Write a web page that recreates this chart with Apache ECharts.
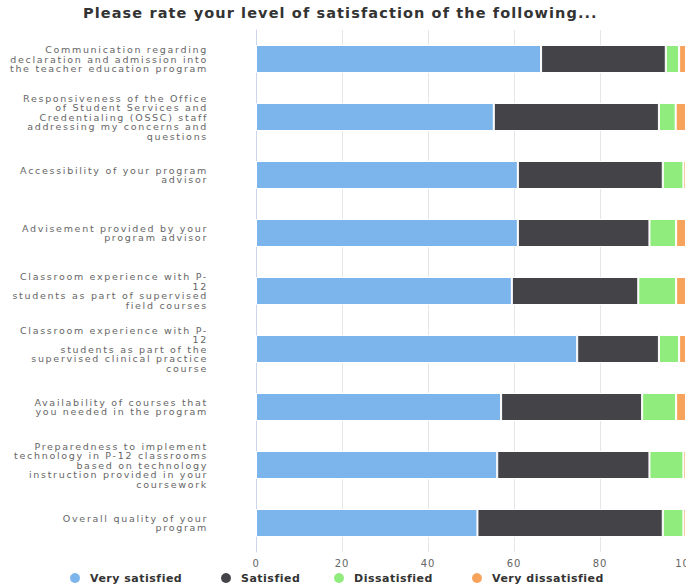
<!DOCTYPE html>
<html>
<head>
<meta charset="utf-8">
<title>Satisfaction</title>
<script src="https://cdn.jsdelivr.net/npm/echarts@6/dist/echarts.min.js"></script>
<style>
html, body { margin: 0; padding: 0; background: #fff; }
#main { width: 686px; height: 587px; }
</style>
</head>
<body>
<div id="main"></div>
<script>
var categories = [
	'Communication regarding\ndeclaration and admission into\nthe teacher education program',
	'Responsiveness of the Office\nof Student Services and\nCredentialing (OSSC) staff\naddressing my concerns and\nquestions',
	'Accessibility of your program\nadvisor',
	'Advisement provided by your\nprogram advisor',
	'Classroom experience with P-\n12\nstudents as part of supervised\nfield courses',
	'Classroom experience with P-\n12\nstudents as part of the\nsupervised clinical practice\ncourse',
	'Availability of courses that\nyou needed in the program',
	'Preparedness to implement\ntechnology in P-12 classrooms\nbased on technology\ninstruction provided in your\ncoursework',
	'Overall quality of your\nprogram'
];

var seriesNames = ['Very satisfied', 'Satisfied', 'Dissatisfied', 'Very dissatisfied'];

var verySatisfied    = [66.3, 55.3, 60.9, 60.9, 59.5, 74.7, 57.0, 56.1, 51.5];
var satisfied        = [29.0, 38.4, 33.7, 30.6, 29.4, 19.0, 32.8, 35.4, 43.1];
var dissatisfied     = [3.1, 3.9, 4.8, 6.2, 8.8, 4.7, 7.9, 7.9, 4.8];
var veryDissatisfied = [1.6, 2.4, 0.6, 2.3, 2.3, 1.6, 2.3, 0.6, 0.6];

var colors = ['#7cb5ec', '#434348', '#90ed7d', '#f7a35c'];
var fontName = 'DejaVu Sans';

// where each legend entry starts
var legendLeft = [68, 219, 332, 470];

// tracking per font size, the original text is widely spaced
var letterSpacing = { '14.5px': '1.1px', '11px': '0.5px', '9.5px': '1.7px', '10px': '0.8px' };

var values = [verySatisfied, satisfied, dissatisfied, veryDissatisfied];
var series = [];
var legends = [];
for (var i = 0; i < seriesNames.length; i++) {
	series.push({
		name: seriesNames[i],
		type: 'bar',
		stack: 'total',
		barWidth: 28,
		itemStyle: { color: colors[i], borderColor: '#fff', borderWidth: 1 },
		data: values[i]
	});
	legends.push({
		data: [seriesNames[i]],
		left: legendLeft[i],
		bottom: 2,
		padding: 0,
		icon: 'circle',
		itemWidth: 12,
		itemHeight: 12,
		textStyle: {
			fontFamily: fontName, fontSize: 11, fontWeight: 'bold', color: '#333',
			padding: [0, 0, 0, 4]
		}
	});
}

var chart = echarts.init(document.getElementById('main'), null, { renderer: 'svg' });

var option = {
	color: colors,
	animation: false,
	title: {
		text: 'Please rate your level of satisfaction of the following...',
		left: 83,
		top: 5,
		padding: 0,
		textStyle: { fontFamily: fontName, fontSize: 14.5, fontWeight: 'bold', color: '#333' }
	},
	legend: legends,
	grid: { left: 256, right: 0, top: 30, bottom: 35, containLabel: false, outerBoundsMode: 'none' },
	xAxis: {
		type: 'value',
		min: 0,
		max: 100,
		interval: 20,
		axisLine: { show: false },
		axisTick: { show: false },
		splitLine: { lineStyle: { color: '#e6e6e6' } },
		axisLabel: { fontFamily: fontName, fontSize: 10, color: '#666', margin: 6 }
	},
	yAxis: {
		type: 'category',
		inverse: true,
		data: categories,
		axisLine: { lineStyle: { color: '#ccd6eb' } },
		axisTick: { length: 10, lineStyle: { color: '#ccd6eb' } },
		axisLabel: {
			fontFamily: fontName, fontSize: 9.5, color: '#666',
			lineHeight: 9.5, margin: 48, align: 'right'
		}
	},
	series: series
};

function spaceText() {
	var texts = document.querySelectorAll('#main svg text');
	for (var k = 0; k < texts.length; k++) {
		var size = window.getComputedStyle(texts[k]).fontSize;
		if (letterSpacing[size]) texts[k].style.letterSpacing = letterSpacing[size];
	}
}

chart.on('finished', spaceText);
chart.setOption(option);
spaceText();
</script>
</body>
</html>
